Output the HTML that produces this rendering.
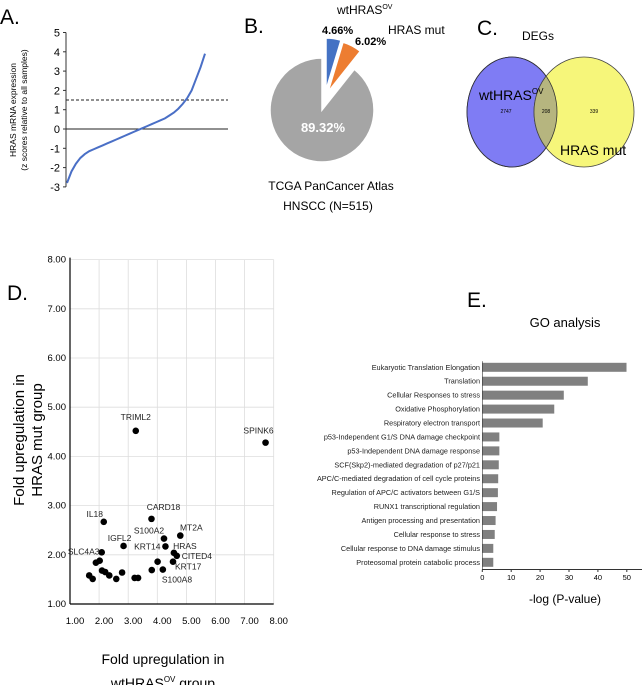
<!DOCTYPE html>
<html><head><meta charset="utf-8"><style>
body{margin:0;background:#fff;}
svg{display:block;font-family:"Liberation Sans",sans-serif;}
</style></head><body>
<svg id="fig" width="643" height="685" viewBox="0 0 643 685">
<g id="pA">
<text x="0" y="24" font-size="21">A.</text>
<text transform="translate(16,110) rotate(-90)" text-anchor="middle" font-size="8.5">HRAS mRNA expression</text>
<text transform="translate(27,110) rotate(-90)" text-anchor="middle" font-size="8.5">(z scores relative to all samples)</text>
</g>
<g id="pB">
<text x="244" y="33" font-size="21">B.</text>
<text x="337" y="14" font-size="12">wtHRAS<tspan font-size="7" dy="-5">OV</tspan></text>
<text x="322" y="34" font-size="11" font-weight="bold">4.66%</text>
<text x="388" y="34" font-size="12">HRAS mut</text>
<text x="355" y="45" font-size="11" font-weight="bold">6.02%</text>
<text x="331" y="190" text-anchor="middle" font-size="12">TCGA PanCancer Atlas</text>
<text x="328" y="210" text-anchor="middle" font-size="12">HNSCC (N=515)</text>
</g>
<g id="pC">
<text x="477" y="35" font-size="21">C.</text>
<text x="538" y="40" text-anchor="middle" font-size="12">DEGs</text>
<defs><clipPath id="cb"><ellipse cx="512" cy="112" rx="45" ry="55"/></clipPath></defs>
<ellipse cx="512" cy="112" rx="45" ry="55" fill="#7f7cf4" stroke="#2a2a6a" stroke-width="0.8"/>
<ellipse cx="584" cy="112" rx="50" ry="55" fill="#f6f67a" stroke="#444" stroke-width="0.8"/>
<ellipse cx="584" cy="112" rx="50" ry="55" fill="#b6b57f" stroke="#444" stroke-width="0.8" clip-path="url(#cb)"/>
<ellipse cx="512" cy="112" rx="45" ry="55" fill="none" stroke="#333" stroke-width="0.8"/>
<text x="479" y="100" font-size="14">wtHRAS<tspan font-size="8" dy="-6">OV</tspan></text>
<text x="506" y="113" text-anchor="middle" font-size="5">2747</text>
<text x="546" y="113" text-anchor="middle" font-size="5">208</text>
<text x="594" y="113" text-anchor="middle" font-size="5">339</text>
<text x="560" y="155" font-size="14">HRAS mut</text>
</g>
<g id="pD">
<text x="7" y="300" font-size="21">D.</text>
<text transform="translate(24,440) rotate(-90)" text-anchor="middle" font-size="15">Fold upregulation in</text>
<text transform="translate(42,440) rotate(-90)" text-anchor="middle" font-size="15">HRAS mut group</text>
<text x="163" y="664" text-anchor="middle" font-size="14">Fold upregulation in</text>
<text x="163" y="688" text-anchor="middle" font-size="14">wtHRAS<tspan font-size="8" dy="-6">OV</tspan><tspan dy="6"> group</tspan></text>
</g>
<g id="pE">
<text x="467" y="307" font-size="21">E.</text>
<text x="565" y="327" text-anchor="middle" font-size="13">GO analysis</text>
<text x="565" y="603" text-anchor="middle" font-size="12">-log (P-value)</text>
</g>
</svg>
<script>
const zValues = [-2.8,-2.2,-1.8,-1.5,-1.3,-1.15,-1.05,-0.95,-0.85,-0.75,-0.65,-0.55,-0.45,-0.35,-0.25,-0.15,-0.05,0.05,0.15,0.25,0.35,0.45,0.55,0.7,0.85,1.05,1.3,1.6,2.0,2.6,3.2,3.9];
const zTicks = [5,4,3,2,1,0,-1,-2,-3];
const zThreshold = 1.5;
const pieShares = [4.66, 6.02, 89.32];
const geneNames = ["TRIML2","SPINK6","IL18","CARD18","MT2A","S100A2","IGFL2","KRT14","SLC4A3","HRAS","CITED4","KRT17","","S100A8","","","","","","","","","","",""];
const geneX = [3.26,7.72,2.16,3.80,4.79,4.23,2.84,4.28,2.09,4.57,4.67,4.54,4.01,4.19,3.81,2.02,1.89,2.10,2.21,2.35,1.66,1.78,2.59,2.79,3.22,3.34];
const geneY = [4.52,4.28,2.67,2.73,2.39,2.33,2.18,2.17,2.05,2.04,1.98,1.86,1.86,1.70,1.69,1.88,1.84,1.68,1.65,1.58,1.58,1.51,1.51,1.64,1.53,1.53];
const dTicks = [1,2,3,4,5,6,7,8];
const goTerms = ["Eukaryotic Translation Elongation","Translation","Cellular Responses to stress","Oxidative Phosphorylation","Respiratory electron transport","p53-Independent G1/S DNA damage checkpoint","p53-Independent DNA damage response","SCF(Skp2)-mediated degradation of p27/p21","APC/C-mediated degradation of cell cycle proteins","Regulation of APC/C activators between G1/S","RUNX1 transcriptional regulation","Antigen processing and presentation","Cellular response to stress","Cellular response to DNA damage stimulus","Proteosomal protein catabolic process"];
const goValues = [49.9,36.5,28.2,24.9,20.9,5.9,5.9,5.7,5.5,5.4,5.1,4.6,4.3,3.8,3.8];
const goTicks = [0,10,20,30,40,50];

const NS="http://www.w3.org/2000/svg";
function mk(parent,tag,attrs,txt){const e=document.createElementNS(NS,tag);for(const k in attrs)e.setAttribute(k,attrs[k]);if(txt!==undefined)e.textContent=txt;parent.appendChild(e);return e;}

const pA=document.getElementById('pA');
const ayS=v=>129-v*19.3;
const axS=i=>67+i*(205-67)/(zValues.length-1);
let al=mk(pA,'line',{x1:66,y1:ayS(5),x2:66,y2:ayS(-3),stroke:'#333','stroke-width':1});


zTicks.forEach(t=>{
  const tx=mk(pA,'text',{x:60,y:ayS(t)+4,'text-anchor':'end','font-size':11},String(t));
  
  
  mk(pA,'line',{x1:63,y1:ayS(t),x2:66,y2:ayS(t),stroke:'#333'});
});
let zl=mk(pA,'line',{x1:66,y1:ayS(0),x2:228,y2:ayS(0),stroke:'#222','stroke-width':1});


let dl=mk(pA,'line',{x1:66,y1:ayS(zThreshold),x2:228,y2:ayS(zThreshold),stroke:'#222','stroke-width':1,'stroke-dasharray':'3,2'});


let d='';zValues.forEach((v,i)=>{d+=(i?'L':'M')+axS(i)+','+ayS(v);});
let cp=mk(pA,'path',{d:d,fill:'none',stroke:'#4a6fc6','stroke-width':2});



const pB=document.getElementById('pB');
const cx=322,cy=110,r=52;
const cols=['#4472c4','#ed7d31','#a5a5a5'];
const offs=[[4,-20],[6,-18],[0,0]];
const names=['pie-wthras','pie-hras-mut','pie-other'];
let start=0;
pieShares.forEach((s,i)=>{
  const a0=start/100*2*Math.PI,a1=(start+s)/100*2*Math.PI;start+=s;
  const ox=cx+offs[i][0],oy=cy+offs[i][1];
  const p=`M${ox},${oy}L${ox+r*Math.sin(a0)},${oy-r*Math.cos(a0)}A${r},${r} 0 ${s>50?1:0} 1 ${ox+r*Math.sin(a1)},${oy-r*Math.cos(a1)}Z`;
  const e=mk(pB,'path',{d:p,fill:cols[i],stroke:'#fff','stroke-width':1.5});
  
  
});
let pl=mk(pB,'text',{x:323,y:132,'text-anchor':'middle','font-size':13,'font-weight':'bold',fill:'#fff'},pieShares[2].toFixed(2)+'%');



const pD=document.getElementById('pD');
const dx=v=>70+(v-1)*29.1, dy=v=>604-(v-1)*49.2;
dTicks.forEach(t=>{
  if(t>1){mk(pD,'line',{x1:dx(t),y1:dy(8),x2:dx(t),y2:dy(1),stroke:'#ddd','stroke-width':0.8});
          mk(pD,'line',{x1:dx(1),y1:dy(t),x2:dx(8),y2:dy(t),stroke:'#ddd','stroke-width':0.8});}
  const ty=mk(pD,'text',{x:66,y:dy(t)+3,'text-anchor':'end','font-size':9.5},t.toFixed(2));
  
  
  const tx=mk(pD,'text',{x:dx(t)+5,y:624,'text-anchor':'middle','font-size':9.5},t.toFixed(2));
  
  
});
let dya=mk(pD,'line',{x1:dx(1),y1:dy(8)-2,x2:dx(1),y2:dy(1),stroke:'#000','stroke-width':1.2});


let dxa=mk(pD,'line',{x1:dx(1),y1:dy(1),x2:dx(8),y2:dy(1),stroke:'#000','stroke-width':1.2});


const lblOff={TRIML2:[0,-11,'middle'],SPINK6:[-7,-9,'middle'],IL18:[-9,-5,'middle'],CARD18:[12,-9,'middle'],MT2A:[11,-5,'middle'],S100A2:[-15,-5,'middle'],IGFL2:[-4,-5,'middle'],KRT14:[-5,3,'end'],SLC4A3:[-18,2,'middle'],HRAS:[11,-4,'middle'],CITED4:[5,3,'start'],KRT17:[2,8,'start'],S100A8:[-1,13,'start']};
geneX.forEach((gx,i)=>{
  const c=mk(pD,'circle',{cx:dx(gx),cy:dy(geneY[i]),r:3.3,fill:'#000'});
  
  
  const n=geneNames[i];
  if(n&&lblOff[n]){const o=lblOff[n];
    const t=mk(pD,'text',{x:dx(gx)+o[0],y:dy(geneY[i])+o[1],'text-anchor':o[2],'font-size':8.5,fill:'#222'},n);
    
    }
});

const pE=document.getElementById('pE');
const ex=v=>482.3+v*2.89, ey=i=>367.3+i*13.93;
goTerms.forEach((g,i)=>{
  const b=mk(pE,'rect',{x:ex(0),y:ey(i)-4.5,width:ex(goValues[i])-ex(0),height:9,fill:'#808080'});
  
  
  const t=mk(pE,'text',{x:480,y:ey(i)+2.5,'text-anchor':'end','font-size':7.3,fill:'#222'},g);
  
  
});
let ea=mk(pE,'line',{x1:ex(0),y1:569.5,x2:642,y2:569.5,stroke:'#333','stroke-width':1});


let eya=mk(pE,'line',{x1:ex(0),y1:ey(0)-6,x2:ex(0),y2:569.5,stroke:'#333','stroke-width':0.6});


goTicks.forEach(t=>{
  mk(pE,'line',{x1:ex(t),y1:569.5,x2:ex(t),y2:572,stroke:'#333'});
  const tt=mk(pE,'text',{x:ex(t),y:580,'text-anchor':'middle','font-size':7.5},String(t));
  
  
});
</script>
</body></html>
